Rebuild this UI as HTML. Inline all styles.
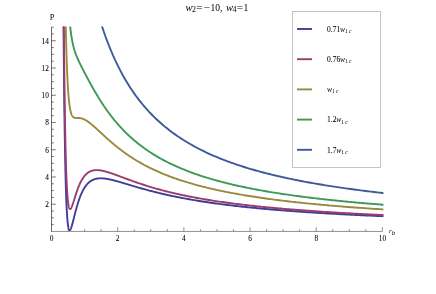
<!DOCTYPE html>
<html><head><meta charset="utf-8"><style>
html,body{margin:0;padding:0;background:#fff;}
svg{display:block;font-family:"Liberation Serif",serif;}
text{fill:#000;}
.b text,text.b{stroke:#000;stroke-width:0.06px;}
</style></head><body>
<div style="will-change:transform;opacity:0.999"><svg width="436" height="294" viewBox="0 0 436 294">
<rect width="436" height="294" fill="#fff"/>
<clipPath id="cp"><rect x="51.5" y="26.4" width="331.95" height="210"/></clipPath><g clip-path="url(#cp)"><path d="M63.37,3.31L63.49,19.23L63.61,34.11L63.73,48.02L63.85,61.02L63.97,73.17L64.09,84.53L64.21,95.14L64.32,105.07L64.44,114.34L64.56,123.01L64.68,131.10L64.80,138.67L64.92,145.73L65.04,152.33L65.16,158.48L65.28,164.23L65.40,169.59L65.52,174.59L65.64,179.24L65.76,183.58L65.88,187.62L66.00,191.37L66.12,194.87L66.23,198.11L66.35,201.12L66.47,203.91L66.59,206.50L66.71,208.89L66.83,211.10L66.95,213.13L67.07,215.01L67.19,216.74L67.31,218.32L67.43,219.77L67.55,221.10L67.67,222.30L67.79,223.40L67.91,224.39L68.03,225.28L68.14,226.08L68.26,226.79L68.38,227.42L68.50,227.98L68.62,228.46L68.74,228.87L68.86,229.23L68.98,229.52L69.10,229.75L69.22,229.94L69.34,230.07L69.46,230.16L69.58,230.20L69.70,230.21L69.82,230.17L69.93,230.11L70.05,230.00L70.17,229.87L70.29,229.71L70.41,229.52L70.53,229.30L70.65,229.06L70.77,228.80L70.89,228.52L71.01,228.22L71.13,227.91L71.25,227.57L71.37,227.22L71.49,226.86L71.61,226.49L71.73,226.10L71.84,225.70L71.96,225.30L72.08,224.88L72.20,224.46L72.32,224.02L72.44,223.58L72.56,223.14L72.68,222.69L72.80,222.24L72.92,221.78L73.04,221.31L73.16,220.85L73.28,220.38L73.40,219.91L73.52,219.44L73.64,218.97L73.75,218.49L73.87,218.02L73.99,217.54L74.11,217.07L74.23,216.59L74.35,216.12L74.47,215.65L74.59,215.18L74.71,214.71L74.83,214.24L74.95,213.77L75.07,213.31L75.19,212.84L75.31,212.38L75.43,211.92L75.54,211.47L75.66,211.02L75.78,210.57L75.90,210.12L76.02,209.68L76.14,209.24L76.26,208.80L76.38,208.37L76.50,207.94L76.62,207.51L76.74,207.09L76.86,206.67L76.98,206.25L77.10,205.84L77.22,205.43L77.34,205.03L77.45,204.63L77.57,204.23L77.69,203.84L77.81,203.45L77.93,203.07L78.05,202.69L78.17,202.31L78.29,201.94L78.41,201.57L78.53,201.20L78.65,200.84L78.77,200.49L78.89,200.14L79.01,199.79L79.13,199.44L79.25,199.10L79.36,198.76L79.48,198.43L79.60,198.10L79.72,197.78L79.84,197.46L79.96,197.14L80.08,196.83L80.20,196.52L80.32,196.21L80.44,195.91L80.56,195.61L80.68,195.32L80.80,195.03L80.92,194.74L81.04,194.46L81.16,194.18L81.27,193.90L81.39,193.63L81.51,193.36L81.63,193.10L81.75,192.84L81.87,192.58L81.99,192.32L82.11,192.07L82.23,191.82L82.35,191.58L82.47,191.34L82.59,191.10L82.71,190.87L82.83,190.63L82.95,190.41L83.06,190.18L83.18,189.96L83.30,189.74L83.42,189.53L83.54,189.31L83.66,189.10L83.78,188.90L83.90,188.69L84.02,188.49L84.14,188.30L84.26,188.10L84.38,187.91L84.50,187.72L84.62,187.53L84.74,187.35L84.86,187.17L84.97,186.99L85.09,186.81L85.21,186.64L85.33,186.47L85.45,186.30L85.57,186.14L85.69,185.98L85.81,185.82L85.93,185.66L86.05,185.50L86.17,185.35L86.29,185.20L86.41,185.05L86.53,184.90L86.65,184.76L86.77,184.62L86.88,184.48L87.00,184.34L87.12,184.21L87.24,184.08L87.36,183.95L87.48,183.82L87.60,183.69L87.72,183.57L87.84,183.45L87.96,183.33L88.08,183.21L88.20,183.09L88.32,182.98L88.44,182.87L88.56,182.76L88.67,182.65L88.79,182.54L88.91,182.44L89.03,182.33L89.15,182.23L89.27,182.13L89.39,182.04L89.51,181.94L89.63,181.85L89.75,181.75L89.87,181.66L89.99,181.57L90.11,181.49L90.23,181.40L90.35,181.32L90.47,181.23L90.58,181.15L90.70,181.07L90.82,180.99L90.94,180.92L91.06,180.84L91.18,180.77L91.30,180.70L91.42,180.62L91.54,180.56L91.66,180.49L91.78,180.42L91.90,180.36L92.02,180.29L92.14,180.23L92.26,180.17L92.38,180.11L92.49,180.05L92.61,179.99L92.73,179.93L92.85,179.88L92.97,179.83L93.09,179.77L93.21,179.72L93.33,179.67L93.45,179.62L93.57,179.57L93.69,179.53L93.81,179.48L93.93,179.44L94.05,179.39L94.17,179.35L94.28,179.31L94.40,179.27L94.52,179.23L94.64,179.19L94.76,179.15L94.88,179.12L95.00,179.08L95.12,179.05L95.24,179.01L95.36,178.98L95.48,178.95L95.60,178.92L95.72,178.89L95.84,178.86L95.96,178.83L96.08,178.80L96.19,178.78L96.31,178.75L96.43,178.73L96.55,178.70L96.67,178.68L96.79,178.66L96.91,178.64L97.03,178.62L97.15,178.60L97.27,178.58L97.39,178.56L97.51,178.54L97.63,178.52L97.75,178.51L97.87,178.49L97.99,178.48L98.10,178.46L98.22,178.45L98.34,178.44L98.46,178.43L98.58,178.41L98.70,178.40L98.82,178.39L98.94,178.39L99.06,178.38L99.18,178.37L99.30,178.36L99.42,178.35L99.54,178.35L99.66,178.34L99.78,178.34L99.89,178.33L100.01,178.33L100.13,178.33L100.25,178.32L100.37,178.32L100.49,178.32L100.61,178.32L100.73,178.32L100.85,178.32L100.97,178.32L101.09,178.32L101.21,178.32L101.33,178.33L101.45,178.33L101.57,178.33L101.69,178.33L101.80,178.34L101.92,178.34L102.04,178.35L102.16,178.35L102.28,178.36L102.40,178.37L102.52,178.37L102.64,178.38L102.76,178.39L102.88,178.40L103.00,178.40L103.12,178.41L103.24,178.42L103.36,178.43L103.48,178.44L103.60,178.45L103.71,178.46L103.83,178.48L103.95,178.49L104.07,178.50L104.19,178.51L104.31,178.53L104.43,178.54L104.55,178.55L104.67,178.57L104.79,178.58L104.91,178.59L105.03,178.61L105.15,178.62L105.27,178.64L105.39,178.66L105.51,178.67L105.62,178.69L105.74,178.71L105.86,178.72L105.98,178.74L106.10,178.76L106.22,178.78L106.34,178.79L106.46,178.81L106.58,178.83L106.70,178.85L106.82,178.87L106.94,178.89L107.06,178.91L107.18,178.93L107.30,178.95L107.41,178.97L107.53,178.99L107.65,179.01L107.77,179.04L107.89,179.06L108.01,179.08L108.13,179.10L108.25,179.12L108.37,179.15L108.49,179.17L108.61,179.19L108.73,179.22L108.85,179.24L108.97,179.26L109.09,179.29L109.21,179.31L109.32,179.34L109.44,179.36L109.56,179.39L109.68,179.41L109.80,179.44L109.92,179.46L110.04,179.49L110.16,179.51L110.28,179.54L110.40,179.57L110.52,179.59L110.64,179.62L110.76,179.64L110.88,179.67L111.00,179.70L111.12,179.73L111.23,179.75L111.35,179.78L111.47,179.81L111.59,179.84L111.71,179.86L111.83,179.89L111.95,179.92L112.07,179.95L112.19,179.98L112.31,180.01L112.43,180.04L112.55,180.07L112.67,180.09L112.79,180.12L112.91,180.15L113.02,180.18L113.14,180.21L113.26,180.24L113.38,180.27L113.50,180.30L113.62,180.33L113.74,180.36L113.86,180.39L113.98,180.42L114.10,180.45L114.22,180.49L114.34,180.52L114.46,180.55L114.58,180.58L114.70,180.61L114.82,180.64L114.93,180.67L115.05,180.70L115.17,180.74L115.29,180.77L115.41,180.80L115.53,180.83L115.65,180.86L115.77,180.90L115.89,180.93L116.01,180.96L116.13,180.99L116.25,181.02L116.37,181.06L116.49,181.09L116.61,181.12L116.73,181.16L116.84,181.19L116.96,181.22L117.08,181.25L117.20,181.29L117.32,181.32L117.44,181.35L117.56,181.39L117.68,181.42L119.34,181.89L121.01,182.38L122.67,182.86L124.34,183.36L126.00,183.86L127.67,184.36L129.33,184.86L131.00,185.35L132.66,185.85L134.33,186.34L135.99,186.83L137.66,187.31L139.32,187.79L140.99,188.27L142.65,188.74L144.32,189.20L145.98,189.65L147.65,190.10L149.31,190.55L150.98,190.98L152.64,191.41L154.31,191.84L155.97,192.25L157.63,192.66L159.30,193.07L160.96,193.46L162.63,193.85L164.29,194.24L165.96,194.62L167.62,194.99L169.29,195.35L170.95,195.71L172.62,196.06L174.28,196.41L175.95,196.75L177.61,197.09L179.28,197.42L180.94,197.74L182.61,198.06L184.27,198.37L185.94,198.68L187.60,198.98L189.27,199.28L190.93,199.57L192.59,199.86L194.26,200.15L195.92,200.42L197.59,200.70L199.25,200.97L200.92,201.23L202.58,201.50L204.25,201.75L205.91,202.01L207.58,202.25L209.24,202.50L210.91,202.74L212.57,202.98L214.24,203.21L215.90,203.44L217.57,203.67L219.23,203.89L220.90,204.11L222.56,204.33L224.23,204.54L225.89,204.75L227.56,204.96L229.22,205.16L230.88,205.36L232.55,205.56L234.21,205.76L235.88,205.95L237.54,206.14L239.21,206.33L240.87,206.51L242.54,206.69L244.20,206.87L245.87,207.05L247.53,207.22L249.20,207.39L250.86,207.56L252.53,207.73L254.19,207.90L255.86,208.06L257.52,208.22L259.19,208.38L260.85,208.53L262.52,208.69L264.18,208.84L265.85,208.99L267.51,209.14L269.17,209.29L270.84,209.43L272.50,209.57L274.17,209.71L275.83,209.85L277.50,209.99L279.16,210.13L280.83,210.26L282.49,210.39L284.16,210.53L285.82,210.65L287.49,210.78L289.15,210.91L290.82,211.03L292.48,211.16L294.15,211.28L295.81,211.40L297.48,211.52L299.14,211.64L300.81,211.75L302.47,211.87L304.13,211.98L305.80,212.09L307.46,212.20L309.13,212.31L310.79,212.42L312.46,212.53L314.12,212.64L315.79,212.74L317.45,212.84L319.12,212.95L320.78,213.05L322.45,213.15L324.11,213.25L325.78,213.35L327.44,213.44L329.11,213.54L330.77,213.64L332.44,213.73L334.10,213.82L335.77,213.92L337.43,214.01L339.10,214.10L340.76,214.19L342.42,214.28L344.09,214.36L345.75,214.45L347.42,214.54L349.08,214.62L350.75,214.71L352.41,214.79L354.08,214.87L355.74,214.96L357.41,215.04L359.07,215.12L360.74,215.20L362.40,215.27L364.07,215.35L365.73,215.43L367.40,215.51L369.06,215.58L370.73,215.66L372.39,215.73L374.06,215.81L375.72,215.88L377.39,215.95L379.05,216.02L380.71,216.09L382.38,216.16L384.04,216.23L385.71,216.30" stroke="#3F3D99" fill="none" stroke-width="1.9" stroke-linejoin="round"/><path d="M63.61,2.08L63.73,16.30L63.85,29.60L63.97,42.06L64.09,53.71L64.21,64.61L64.32,74.82L64.44,84.37L64.56,93.31L64.68,101.68L64.80,109.51L64.92,116.83L65.04,123.68L65.16,130.09L65.28,136.08L65.40,141.68L65.52,146.92L65.64,151.81L65.76,156.37L65.88,160.64L66.00,164.62L66.12,168.33L66.23,171.79L66.35,175.01L66.47,178.01L66.59,180.80L66.71,183.39L66.83,185.80L66.95,188.03L67.07,190.10L67.19,192.01L67.31,193.79L67.43,195.42L67.55,196.92L67.67,198.31L67.79,199.58L67.91,200.74L68.03,201.81L68.14,202.77L68.26,203.65L68.38,204.45L68.50,205.16L68.62,205.81L68.74,206.38L68.86,206.88L68.98,207.33L69.10,207.71L69.22,208.05L69.34,208.33L69.46,208.56L69.58,208.75L69.70,208.89L69.82,209.00L69.93,209.06L70.05,209.10L70.17,209.10L70.29,209.07L70.41,209.01L70.53,208.92L70.65,208.81L70.77,208.67L70.89,208.52L71.01,208.34L71.13,208.14L71.25,207.93L71.37,207.70L71.49,207.45L71.61,207.20L71.73,206.92L71.84,206.64L71.96,206.34L72.08,206.03L72.20,205.72L72.32,205.39L72.44,205.06L72.56,204.72L72.68,204.38L72.80,204.02L72.92,203.67L73.04,203.31L73.16,202.94L73.28,202.57L73.40,202.20L73.52,201.82L73.64,201.44L73.75,201.06L73.87,200.68L73.99,200.30L74.11,199.91L74.23,199.53L74.35,199.15L74.47,198.76L74.59,198.38L74.71,197.99L74.83,197.61L74.95,197.23L75.07,196.85L75.19,196.47L75.31,196.09L75.43,195.71L75.54,195.34L75.66,194.97L75.78,194.59L75.90,194.23L76.02,193.86L76.14,193.50L76.26,193.14L76.38,192.78L76.50,192.42L76.62,192.07L76.74,191.72L76.86,191.37L76.98,191.03L77.10,190.69L77.22,190.35L77.34,190.02L77.45,189.68L77.57,189.36L77.69,189.03L77.81,188.71L77.93,188.39L78.05,188.08L78.17,187.77L78.29,187.46L78.41,187.15L78.53,186.85L78.65,186.56L78.77,186.26L78.89,185.97L79.01,185.68L79.13,185.40L79.25,185.12L79.36,184.84L79.48,184.57L79.60,184.30L79.72,184.03L79.84,183.77L79.96,183.51L80.08,183.26L80.20,183.00L80.32,182.75L80.44,182.51L80.56,182.26L80.68,182.02L80.80,181.79L80.92,181.56L81.04,181.33L81.16,181.10L81.27,180.88L81.39,180.66L81.51,180.44L81.63,180.22L81.75,180.01L81.87,179.81L81.99,179.60L82.11,179.40L82.23,179.20L82.35,179.01L82.47,178.81L82.59,178.62L82.71,178.44L82.83,178.25L82.95,178.07L83.06,177.89L83.18,177.72L83.30,177.54L83.42,177.37L83.54,177.21L83.66,177.04L83.78,176.88L83.90,176.72L84.02,176.57L84.14,176.41L84.26,176.26L84.38,176.11L84.50,175.96L84.62,175.82L84.74,175.68L84.86,175.54L84.97,175.40L85.09,175.27L85.21,175.14L85.33,175.01L85.45,174.88L85.57,174.75L85.69,174.63L85.81,174.51L85.93,174.39L86.05,174.27L86.17,174.16L86.29,174.05L86.41,173.94L86.53,173.83L86.65,173.72L86.77,173.62L86.88,173.52L87.00,173.42L87.12,173.32L87.24,173.22L87.36,173.13L87.48,173.04L87.60,172.95L87.72,172.86L87.84,172.77L87.96,172.69L88.08,172.60L88.20,172.52L88.32,172.44L88.44,172.36L88.56,172.29L88.67,172.21L88.79,172.14L88.91,172.07L89.03,172.00L89.15,171.93L89.27,171.86L89.39,171.80L89.51,171.73L89.63,171.67L89.75,171.61L89.87,171.55L89.99,171.49L90.11,171.44L90.23,171.38L90.35,171.33L90.47,171.28L90.58,171.23L90.70,171.18L90.82,171.13L90.94,171.08L91.06,171.04L91.18,170.99L91.30,170.95L91.42,170.91L91.54,170.87L91.66,170.83L91.78,170.79L91.90,170.75L92.02,170.72L92.14,170.68L92.26,170.65L92.38,170.62L92.49,170.59L92.61,170.56L92.73,170.53L92.85,170.50L92.97,170.47L93.09,170.45L93.21,170.42L93.33,170.40L93.45,170.37L93.57,170.35L93.69,170.33L93.81,170.31L93.93,170.29L94.05,170.27L94.17,170.26L94.28,170.24L94.40,170.23L94.52,170.21L94.64,170.20L94.76,170.19L94.88,170.17L95.00,170.16L95.12,170.15L95.24,170.14L95.36,170.14L95.48,170.13L95.60,170.12L95.72,170.11L95.84,170.11L95.96,170.10L96.08,170.10L96.19,170.10L96.31,170.10L96.43,170.09L96.55,170.09L96.67,170.09L96.79,170.09L96.91,170.09L97.03,170.10L97.15,170.10L97.27,170.10L97.39,170.10L97.51,170.11L97.63,170.11L97.75,170.12L97.87,170.13L97.99,170.13L98.10,170.14L98.22,170.15L98.34,170.16L98.46,170.17L98.58,170.18L98.70,170.19L98.82,170.20L98.94,170.21L99.06,170.22L99.18,170.23L99.30,170.25L99.42,170.26L99.54,170.27L99.66,170.29L99.78,170.30L99.89,170.32L100.01,170.34L100.13,170.35L100.25,170.37L100.37,170.39L100.49,170.40L100.61,170.42L100.73,170.44L100.85,170.46L100.97,170.48L101.09,170.50L101.21,170.52L101.33,170.54L101.45,170.56L101.57,170.58L101.69,170.61L101.80,170.63L101.92,170.65L102.04,170.67L102.16,170.70L102.28,170.72L102.40,170.75L102.52,170.77L102.64,170.80L102.76,170.82L102.88,170.85L103.00,170.87L103.12,170.90L103.24,170.93L103.36,170.95L103.48,170.98L103.60,171.01L103.71,171.04L103.83,171.06L103.95,171.09L104.07,171.12L104.19,171.15L104.31,171.18L104.43,171.21L104.55,171.24L104.67,171.27L104.79,171.30L104.91,171.33L105.03,171.36L105.15,171.39L105.27,171.43L105.39,171.46L105.51,171.49L105.62,171.52L105.74,171.55L105.86,171.59L105.98,171.62L106.10,171.65L106.22,171.69L106.34,171.72L106.46,171.76L106.58,171.79L106.70,171.82L106.82,171.86L106.94,171.89L107.06,171.93L107.18,171.96L107.30,172.00L107.41,172.03L107.53,172.07L107.65,172.11L107.77,172.14L107.89,172.18L108.01,172.22L108.13,172.25L108.25,172.29L108.37,172.33L108.49,172.36L108.61,172.40L108.73,172.44L108.85,172.48L108.97,172.51L109.09,172.55L109.21,172.59L109.32,172.63L109.44,172.67L109.56,172.71L109.68,172.74L109.80,172.78L109.92,172.82L110.04,172.86L110.16,172.90L110.28,172.94L110.40,172.98L110.52,173.02L110.64,173.06L110.76,173.10L110.88,173.14L111.00,173.18L111.12,173.22L111.23,173.26L111.35,173.30L111.47,173.34L111.59,173.38L111.71,173.42L111.83,173.46L111.95,173.50L112.07,173.55L112.19,173.59L112.31,173.63L112.43,173.67L112.55,173.71L112.67,173.75L112.79,173.79L112.91,173.84L113.02,173.88L113.14,173.92L113.26,173.96L113.38,174.00L113.50,174.05L113.62,174.09L113.74,174.13L113.86,174.17L113.98,174.22L114.10,174.26L114.22,174.30L114.34,174.34L114.46,174.39L114.58,174.43L114.70,174.47L114.82,174.51L114.93,174.56L115.05,174.60L115.17,174.64L115.29,174.69L115.41,174.73L115.53,174.77L115.65,174.82L115.77,174.86L115.89,174.90L116.01,174.95L116.13,174.99L116.25,175.03L116.37,175.08L116.49,175.12L116.61,175.16L116.73,175.21L116.84,175.25L116.96,175.30L117.08,175.34L117.20,175.38L117.32,175.43L117.44,175.47L117.56,175.52L117.68,175.56L119.34,176.18L121.01,176.79L122.67,177.42L124.34,178.03L126.00,178.65L127.67,179.26L129.33,179.87L131.00,180.47L132.66,181.07L134.33,181.66L135.99,182.24L137.66,182.81L139.32,183.38L140.99,183.93L142.65,184.48L144.32,185.02L145.98,185.55L147.65,186.07L149.31,186.58L150.98,187.08L152.64,187.58L154.31,188.06L155.97,188.54L157.63,189.01L159.30,189.47L160.96,189.92L162.63,190.36L164.29,190.80L165.96,191.23L167.62,191.65L169.29,192.06L170.95,192.46L172.62,192.86L174.28,193.25L175.95,193.63L177.61,194.01L179.28,194.38L180.94,194.74L182.61,195.10L184.27,195.45L185.94,195.79L187.60,196.13L189.27,196.47L190.93,196.79L192.59,197.11L194.26,197.43L195.92,197.74L197.59,198.04L199.25,198.34L200.92,198.64L202.58,198.93L204.25,199.21L205.91,199.49L207.58,199.77L209.24,200.04L210.91,200.31L212.57,200.57L214.24,200.83L215.90,201.08L217.57,201.33L219.23,201.58L220.90,201.82L222.56,202.06L224.23,202.30L225.89,202.53L227.56,202.76L229.22,202.98L230.88,203.20L232.55,203.42L234.21,203.63L235.88,203.85L237.54,204.05L239.21,204.26L240.87,204.46L242.54,204.66L244.20,204.86L245.87,205.05L247.53,205.24L249.20,205.43L250.86,205.62L252.53,205.80L254.19,205.98L255.86,206.16L257.52,206.34L259.19,206.51L260.85,206.68L262.52,206.85L264.18,207.02L265.85,207.18L267.51,207.34L269.17,207.50L270.84,207.66L272.50,207.82L274.17,207.97L275.83,208.12L277.50,208.28L279.16,208.42L280.83,208.57L282.49,208.71L284.16,208.86L285.82,209.00L287.49,209.14L289.15,209.28L290.82,209.41L292.48,209.55L294.15,209.68L295.81,209.81L297.48,209.94L299.14,210.07L300.81,210.20L302.47,210.32L304.13,210.44L305.80,210.57L307.46,210.69L309.13,210.81L310.79,210.93L312.46,211.04L314.12,211.16L315.79,211.27L317.45,211.39L319.12,211.50L320.78,211.61L322.45,211.72L324.11,211.83L325.78,211.93L327.44,212.04L329.11,212.14L330.77,212.25L332.44,212.35L334.10,212.45L335.77,212.55L337.43,212.65L339.10,212.75L340.76,212.85L342.42,212.94L344.09,213.04L345.75,213.13L347.42,213.23L349.08,213.32L350.75,213.41L352.41,213.50L354.08,213.59L355.74,213.68L357.41,213.77L359.07,213.86L360.74,213.94L362.40,214.03L364.07,214.11L365.73,214.20L367.40,214.28L369.06,214.36L370.73,214.44L372.39,214.52L374.06,214.60L375.72,214.68L377.39,214.76L379.05,214.84L380.71,214.92L382.38,214.99L384.04,215.07L385.71,215.14" stroke="#993D71" fill="none" stroke-width="1.9" stroke-linejoin="round"/><path d="M65.28,0.96L65.40,7.73L65.52,14.10L65.64,20.11L65.76,25.78L65.88,31.13L66.00,36.18L66.12,40.93L66.23,45.43L66.35,49.66L66.47,53.66L66.59,57.43L66.71,60.99L66.83,64.36L66.95,67.53L67.07,70.52L67.19,73.35L67.31,76.01L67.43,78.53L67.55,80.90L67.67,83.14L67.79,85.26L67.91,87.25L68.03,89.14L68.14,90.91L68.26,92.59L68.38,94.17L68.50,95.66L68.62,97.06L68.74,98.39L68.86,99.64L68.98,100.81L69.10,101.92L69.22,102.97L69.34,103.95L69.46,104.88L69.58,105.75L69.70,106.57L69.82,107.34L69.93,108.07L70.05,108.75L70.17,109.39L70.29,109.99L70.41,110.56L70.53,111.09L70.65,111.59L70.77,112.06L70.89,112.50L71.01,112.91L71.13,113.29L71.25,113.65L71.37,113.99L71.49,114.30L71.61,114.59L71.73,114.87L71.84,115.12L71.96,115.36L72.08,115.58L72.20,115.79L72.32,115.98L72.44,116.15L72.56,116.32L72.68,116.47L72.80,116.61L72.92,116.74L73.04,116.86L73.16,116.97L73.28,117.07L73.40,117.17L73.52,117.25L73.64,117.33L73.75,117.40L73.87,117.47L73.99,117.52L74.11,117.58L74.23,117.63L74.35,117.67L74.47,117.71L74.59,117.74L74.71,117.77L74.83,117.80L74.95,117.82L75.07,117.85L75.19,117.86L75.31,117.88L75.43,117.89L75.54,117.91L75.66,117.91L75.78,117.92L75.90,117.93L76.02,117.94L76.14,117.94L76.26,117.94L76.38,117.95L76.50,117.95L76.62,117.95L76.74,117.95L76.86,117.95L76.98,117.95L77.10,117.95L77.22,117.95L77.34,117.95L77.45,117.95L77.57,117.95L77.69,117.95L77.81,117.95L77.93,117.95L78.05,117.96L78.17,117.96L78.29,117.96L78.41,117.97L78.53,117.97L78.65,117.98L78.77,117.98L78.89,117.99L79.01,118.00L79.13,118.01L79.25,118.01L79.36,118.03L79.48,118.04L79.60,118.05L79.72,118.06L79.84,118.08L79.96,118.09L80.08,118.11L80.20,118.13L80.32,118.15L80.44,118.17L80.56,118.19L80.68,118.21L80.80,118.24L80.92,118.26L81.04,118.29L81.16,118.31L81.27,118.34L81.39,118.37L81.51,118.40L81.63,118.43L81.75,118.47L81.87,118.50L81.99,118.54L82.11,118.57L82.23,118.61L82.35,118.65L82.47,118.69L82.59,118.73L82.71,118.77L82.83,118.82L82.95,118.86L83.06,118.91L83.18,118.95L83.30,119.00L83.42,119.05L83.54,119.10L83.66,119.15L83.78,119.20L83.90,119.26L84.02,119.31L84.14,119.37L84.26,119.42L84.38,119.48L84.50,119.54L84.62,119.60L84.74,119.66L84.86,119.72L84.97,119.78L85.09,119.85L85.21,119.91L85.33,119.97L85.45,120.04L85.57,120.11L85.69,120.18L85.81,120.24L85.93,120.31L86.05,120.38L86.17,120.46L86.29,120.53L86.41,120.60L86.53,120.67L86.65,120.75L86.77,120.82L86.88,120.90L87.00,120.98L87.12,121.05L87.24,121.13L87.36,121.21L87.48,121.29L87.60,121.37L87.72,121.45L87.84,121.54L87.96,121.62L88.08,121.70L88.20,121.79L88.32,121.87L88.44,121.96L88.56,122.04L88.67,122.13L88.79,122.22L88.91,122.30L89.03,122.39L89.15,122.48L89.27,122.57L89.39,122.66L89.51,122.75L89.63,122.84L89.75,122.93L89.87,123.03L89.99,123.12L90.11,123.21L90.23,123.31L90.35,123.40L90.47,123.49L90.58,123.59L90.70,123.69L90.82,123.78L90.94,123.88L91.06,123.98L91.18,124.07L91.30,124.17L91.42,124.27L91.54,124.37L91.66,124.47L91.78,124.57L91.90,124.66L92.02,124.76L92.14,124.87L92.26,124.97L92.38,125.07L92.49,125.17L92.61,125.27L92.73,125.37L92.85,125.47L92.97,125.58L93.09,125.68L93.21,125.78L93.33,125.89L93.45,125.99L93.57,126.09L93.69,126.20L93.81,126.30L93.93,126.41L94.05,126.51L94.17,126.62L94.28,126.72L94.40,126.83L94.52,126.94L94.64,127.04L94.76,127.15L94.88,127.26L95.00,127.36L95.12,127.47L95.24,127.58L95.36,127.68L95.48,127.79L95.60,127.90L95.72,128.01L95.84,128.12L95.96,128.22L96.08,128.33L96.19,128.44L96.31,128.55L96.43,128.66L96.55,128.77L96.67,128.88L96.79,128.98L96.91,129.09L97.03,129.20L97.15,129.31L97.27,129.42L97.39,129.53L97.51,129.64L97.63,129.75L97.75,129.86L97.87,129.97L97.99,130.08L98.10,130.19L98.22,130.30L98.34,130.41L98.46,130.52L98.58,130.63L98.70,130.74L98.82,130.85L98.94,130.96L99.06,131.07L99.18,131.18L99.30,131.29L99.42,131.40L99.54,131.51L99.66,131.63L99.78,131.74L99.89,131.85L100.01,131.96L100.13,132.07L100.25,132.18L100.37,132.29L100.49,132.40L100.61,132.51L100.73,132.62L100.85,132.73L100.97,132.84L101.09,132.95L101.21,133.06L101.33,133.17L101.45,133.28L101.57,133.40L101.69,133.51L101.80,133.62L101.92,133.73L102.04,133.84L102.16,133.95L102.28,134.06L102.40,134.17L102.52,134.28L102.64,134.39L102.76,134.50L102.88,134.61L103.00,134.72L103.12,134.83L103.24,134.94L103.36,135.05L103.48,135.16L103.60,135.27L103.71,135.38L103.83,135.49L103.95,135.60L104.07,135.71L104.19,135.82L104.31,135.93L104.43,136.03L104.55,136.14L104.67,136.25L104.79,136.36L104.91,136.47L105.03,136.58L105.15,136.69L105.27,136.80L105.39,136.91L105.51,137.01L105.62,137.12L105.74,137.23L105.86,137.34L105.98,137.45L106.10,137.56L106.22,137.66L106.34,137.77L106.46,137.88L106.58,137.99L106.70,138.09L106.82,138.20L106.94,138.31L107.06,138.42L107.18,138.52L107.30,138.63L107.41,138.74L107.53,138.84L107.65,138.95L107.77,139.06L107.89,139.16L108.01,139.27L108.13,139.37L108.25,139.48L108.37,139.59L108.49,139.69L108.61,139.80L108.73,139.90L108.85,140.01L108.97,140.11L109.09,140.22L109.21,140.32L109.32,140.43L109.44,140.53L109.56,140.64L109.68,140.74L109.80,140.85L109.92,140.95L110.04,141.06L110.16,141.16L110.28,141.26L110.40,141.37L110.52,141.47L110.64,141.58L110.76,141.68L110.88,141.78L111.00,141.89L111.12,141.99L111.23,142.09L111.35,142.19L111.47,142.30L111.59,142.40L111.71,142.50L111.83,142.60L111.95,142.70L112.07,142.81L112.19,142.91L112.31,143.01L112.43,143.11L112.55,143.21L112.67,143.31L112.79,143.41L112.91,143.52L113.02,143.62L113.14,143.72L113.26,143.82L113.38,143.92L113.50,144.02L113.62,144.12L113.74,144.22L113.86,144.32L113.98,144.42L114.10,144.52L114.22,144.61L114.34,144.71L114.46,144.81L114.58,144.91L114.70,145.01L114.82,145.11L114.93,145.21L115.05,145.30L115.17,145.40L115.29,145.50L115.41,145.60L115.53,145.70L115.65,145.79L115.77,145.89L115.89,145.99L116.01,146.08L116.13,146.18L116.25,146.28L116.37,146.37L116.49,146.47L116.61,146.57L116.73,146.66L116.84,146.76L116.96,146.85L117.08,146.95L117.20,147.05L117.32,147.14L117.44,147.24L117.56,147.33L117.68,147.43L119.34,148.73L121.01,150.01L122.67,151.26L124.34,152.47L126.00,153.66L127.67,154.82L129.33,155.95L131.00,157.05L132.66,158.13L134.33,159.18L135.99,160.20L137.66,161.20L139.32,162.18L140.99,163.13L142.65,164.05L144.32,164.96L145.98,165.84L147.65,166.70L149.31,167.55L150.98,168.37L152.64,169.17L154.31,169.95L155.97,170.72L157.63,171.47L159.30,172.20L160.96,172.91L162.63,173.61L164.29,174.29L165.96,174.96L167.62,175.61L169.29,176.25L170.95,176.88L172.62,177.49L174.28,178.09L175.95,178.67L177.61,179.25L179.28,179.81L180.94,180.36L182.61,180.90L184.27,181.43L185.94,181.95L187.60,182.45L189.27,182.95L190.93,183.44L192.59,183.92L194.26,184.39L195.92,184.85L197.59,185.30L199.25,185.74L200.92,186.18L202.58,186.60L204.25,187.02L205.91,187.44L207.58,187.84L209.24,188.24L210.91,188.63L212.57,189.01L214.24,189.39L215.90,189.76L217.57,190.12L219.23,190.48L220.90,190.83L222.56,191.18L224.23,191.52L225.89,191.85L227.56,192.18L229.22,192.50L230.88,192.82L232.55,193.14L234.21,193.44L235.88,193.75L237.54,194.05L239.21,194.34L240.87,194.63L242.54,194.92L244.20,195.20L245.87,195.47L247.53,195.75L249.20,196.01L250.86,196.28L252.53,196.54L254.19,196.80L255.86,197.05L257.52,197.30L259.19,197.55L260.85,197.79L262.52,198.03L264.18,198.26L265.85,198.50L267.51,198.72L269.17,198.95L270.84,199.17L272.50,199.39L274.17,199.61L275.83,199.83L277.50,200.04L279.16,200.25L280.83,200.45L282.49,200.65L284.16,200.86L285.82,201.05L287.49,201.25L289.15,201.44L290.82,201.63L292.48,201.82L294.15,202.01L295.81,202.19L297.48,202.37L299.14,202.55L300.81,202.73L302.47,202.90L304.13,203.08L305.80,203.25L307.46,203.41L309.13,203.58L310.79,203.75L312.46,203.91L314.12,204.07L315.79,204.23L317.45,204.39L319.12,204.54L320.78,204.69L322.45,204.85L324.11,205.00L325.78,205.15L327.44,205.29L329.11,205.44L330.77,205.58L332.44,205.72L334.10,205.86L335.77,206.00L337.43,206.14L339.10,206.28L340.76,206.41L342.42,206.54L344.09,206.68L345.75,206.81L347.42,206.93L349.08,207.06L350.75,207.19L352.41,207.31L354.08,207.44L355.74,207.56L357.41,207.68L359.07,207.80L360.74,207.92L362.40,208.04L364.07,208.16L365.73,208.27L367.40,208.38L369.06,208.50L370.73,208.61L372.39,208.72L374.06,208.83L375.72,208.94L377.39,209.05L379.05,209.15L380.71,209.26L382.38,209.36L384.04,209.47L385.71,209.57" stroke="#998B3D" fill="none" stroke-width="1.9" stroke-linejoin="round"/><path d="M68.26,0.03L68.38,2.27L68.50,4.40L68.62,6.44L68.74,8.40L68.86,10.26L68.98,12.05L69.10,13.76L69.22,15.40L69.34,16.97L69.46,18.48L69.58,19.92L69.70,21.30L69.82,22.63L69.93,23.90L70.05,25.13L70.17,26.30L70.29,27.43L70.41,28.52L70.53,29.57L70.65,30.57L70.77,31.54L70.89,32.48L71.01,33.38L71.13,34.24L71.25,35.08L71.37,35.89L71.49,36.67L71.61,37.42L71.73,38.15L71.84,38.86L71.96,39.54L72.08,40.20L72.20,40.84L72.32,41.46L72.44,42.06L72.56,42.65L72.68,43.22L72.80,43.77L72.92,44.30L73.04,44.82L73.16,45.33L73.28,45.83L73.40,46.31L73.52,46.78L73.64,47.23L73.75,47.68L73.87,48.12L73.99,48.55L74.11,48.96L74.23,49.37L74.35,49.77L74.47,50.16L74.59,50.55L74.71,50.92L74.83,51.29L74.95,51.65L75.07,52.01L75.19,52.36L75.31,52.71L75.43,53.04L75.54,53.38L75.66,53.71L75.78,54.03L75.90,54.35L76.02,54.66L76.14,54.97L76.26,55.28L76.38,55.58L76.50,55.88L76.62,56.18L76.74,56.47L76.86,56.76L76.98,57.05L77.10,57.33L77.22,57.62L77.34,57.89L77.45,58.17L77.57,58.44L77.69,58.72L77.81,58.99L77.93,59.25L78.05,59.52L78.17,59.78L78.29,60.05L78.41,60.31L78.53,60.57L78.65,60.82L78.77,61.08L78.89,61.34L79.01,61.59L79.13,61.84L79.25,62.09L79.36,62.34L79.48,62.59L79.60,62.84L79.72,63.09L79.84,63.33L79.96,63.58L80.08,63.82L80.20,64.07L80.32,64.31L80.44,64.55L80.56,64.80L80.68,65.04L80.80,65.28L80.92,65.52L81.04,65.76L81.16,65.99L81.27,66.23L81.39,66.47L81.51,66.71L81.63,66.94L81.75,67.18L81.87,67.42L81.99,67.65L82.11,67.89L82.23,68.12L82.35,68.35L82.47,68.59L82.59,68.82L82.71,69.06L82.83,69.29L82.95,69.52L83.06,69.75L83.18,69.98L83.30,70.22L83.42,70.45L83.54,70.68L83.66,70.91L83.78,71.14L83.90,71.37L84.02,71.60L84.14,71.83L84.26,72.06L84.38,72.29L84.50,72.52L84.62,72.75L84.74,72.98L84.86,73.20L84.97,73.43L85.09,73.66L85.21,73.89L85.33,74.11L85.45,74.34L85.57,74.57L85.69,74.80L85.81,75.02L85.93,75.25L86.05,75.47L86.17,75.70L86.29,75.93L86.41,76.15L86.53,76.38L86.65,76.60L86.77,76.83L86.88,77.05L87.00,77.28L87.12,77.50L87.24,77.72L87.36,77.95L87.48,78.17L87.60,78.39L87.72,78.62L87.84,78.84L87.96,79.06L88.08,79.28L88.20,79.51L88.32,79.73L88.44,79.95L88.56,80.17L88.67,80.39L88.79,80.61L88.91,80.83L89.03,81.05L89.15,81.27L89.27,81.49L89.39,81.71L89.51,81.93L89.63,82.15L89.75,82.37L89.87,82.59L89.99,82.81L90.11,83.02L90.23,83.24L90.35,83.46L90.47,83.68L90.58,83.89L90.70,84.11L90.82,84.33L90.94,84.54L91.06,84.76L91.18,84.97L91.30,85.19L91.42,85.40L91.54,85.62L91.66,85.83L91.78,86.04L91.90,86.26L92.02,86.47L92.14,86.68L92.26,86.90L92.38,87.11L92.49,87.32L92.61,87.53L92.73,87.74L92.85,87.95L92.97,88.17L93.09,88.38L93.21,88.59L93.33,88.80L93.45,89.00L93.57,89.21L93.69,89.42L93.81,89.63L93.93,89.84L94.05,90.05L94.17,90.25L94.28,90.46L94.40,90.67L94.52,90.87L94.64,91.08L94.76,91.29L94.88,91.49L95.00,91.70L95.12,91.90L95.24,92.10L95.36,92.31L95.48,92.51L95.60,92.71L95.72,92.92L95.84,93.12L95.96,93.32L96.08,93.52L96.19,93.73L96.31,93.93L96.43,94.13L96.55,94.33L96.67,94.53L96.79,94.73L96.91,94.93L97.03,95.13L97.15,95.32L97.27,95.52L97.39,95.72L97.51,95.92L97.63,96.11L97.75,96.31L97.87,96.51L97.99,96.70L98.10,96.90L98.22,97.09L98.34,97.29L98.46,97.48L98.58,97.68L98.70,97.87L98.82,98.06L98.94,98.26L99.06,98.45L99.18,98.64L99.30,98.83L99.42,99.02L99.54,99.22L99.66,99.41L99.78,99.60L99.89,99.79L100.01,99.98L100.13,100.17L100.25,100.35L100.37,100.54L100.49,100.73L100.61,100.92L100.73,101.11L100.85,101.29L100.97,101.48L101.09,101.66L101.21,101.85L101.33,102.04L101.45,102.22L101.57,102.41L101.69,102.59L101.80,102.77L101.92,102.96L102.04,103.14L102.16,103.32L102.28,103.50L102.40,103.69L102.52,103.87L102.64,104.05L102.76,104.23L102.88,104.41L103.00,104.59L103.12,104.77L103.24,104.95L103.36,105.13L103.48,105.31L103.60,105.49L103.71,105.66L103.83,105.84L103.95,106.02L104.07,106.19L104.19,106.37L104.31,106.55L104.43,106.72L104.55,106.90L104.67,107.07L104.79,107.25L104.91,107.42L105.03,107.59L105.15,107.77L105.27,107.94L105.39,108.11L105.51,108.28L105.62,108.46L105.74,108.63L105.86,108.80L105.98,108.97L106.10,109.14L106.22,109.31L106.34,109.48L106.46,109.65L106.58,109.82L106.70,109.98L106.82,110.15L106.94,110.32L107.06,110.49L107.18,110.65L107.30,110.82L107.41,110.99L107.53,111.15L107.65,111.32L107.77,111.48L107.89,111.65L108.01,111.81L108.13,111.98L108.25,112.14L108.37,112.30L108.49,112.47L108.61,112.63L108.73,112.79L108.85,112.95L108.97,113.12L109.09,113.28L109.21,113.44L109.32,113.60L109.44,113.76L109.56,113.92L109.68,114.08L109.80,114.24L109.92,114.39L110.04,114.55L110.16,114.71L110.28,114.87L110.40,115.03L110.52,115.18L110.64,115.34L110.76,115.50L110.88,115.65L111.00,115.81L111.12,115.96L111.23,116.12L111.35,116.27L111.47,116.43L111.59,116.58L111.71,116.73L111.83,116.89L111.95,117.04L112.07,117.19L112.19,117.34L112.31,117.49L112.43,117.65L112.55,117.80L112.67,117.95L112.79,118.10L112.91,118.25L113.02,118.40L113.14,118.55L113.26,118.70L113.38,118.84L113.50,118.99L113.62,119.14L113.74,119.29L113.86,119.44L113.98,119.58L114.10,119.73L114.22,119.88L114.34,120.02L114.46,120.17L114.58,120.31L114.70,120.46L114.82,120.60L114.93,120.75L115.05,120.89L115.17,121.04L115.29,121.18L115.41,121.32L115.53,121.46L115.65,121.61L115.77,121.75L115.89,121.89L116.01,122.03L116.13,122.17L116.25,122.32L116.37,122.46L116.49,122.60L116.61,122.74L116.73,122.88L116.84,123.01L116.96,123.15L117.08,123.29L117.20,123.43L117.32,123.57L117.44,123.71L117.56,123.84L117.68,123.98L119.34,125.86L121.01,127.69L122.67,129.46L124.34,131.17L126.00,132.84L127.67,134.45L129.33,136.02L131.00,137.54L132.66,139.01L134.33,140.45L135.99,141.84L137.66,143.19L139.32,144.51L140.99,145.79L142.65,147.03L144.32,148.24L145.98,149.42L147.65,150.57L149.31,151.68L150.98,152.77L152.64,153.83L154.31,154.86L155.97,155.87L157.63,156.85L159.30,157.80L160.96,158.74L162.63,159.65L164.29,160.54L165.96,161.40L167.62,162.25L169.29,163.08L170.95,163.89L172.62,164.68L174.28,165.45L175.95,166.21L177.61,166.94L179.28,167.67L180.94,168.37L182.61,169.06L184.27,169.74L185.94,170.40L187.60,171.05L189.27,171.69L190.93,172.31L192.59,172.92L194.26,173.52L195.92,174.10L197.59,174.68L199.25,175.24L200.92,175.79L202.58,176.33L204.25,176.87L205.91,177.39L207.58,177.90L209.24,178.40L210.91,178.89L212.57,179.38L214.24,179.85L215.90,180.32L217.57,180.78L219.23,181.23L220.90,181.67L222.56,182.11L224.23,182.53L225.89,182.95L227.56,183.37L229.22,183.77L230.88,184.17L232.55,184.57L234.21,184.95L235.88,185.33L237.54,185.71L239.21,186.07L240.87,186.44L242.54,186.79L244.20,187.14L245.87,187.49L247.53,187.83L249.20,188.17L250.86,188.50L252.53,188.82L254.19,189.14L255.86,189.46L257.52,189.77L259.19,190.07L260.85,190.38L262.52,190.67L264.18,190.97L265.85,191.26L267.51,191.54L269.17,191.82L270.84,192.10L272.50,192.37L274.17,192.64L275.83,192.91L277.50,193.17L279.16,193.43L280.83,193.69L282.49,193.94L284.16,194.19L285.82,194.43L287.49,194.67L289.15,194.91L290.82,195.15L292.48,195.38L294.15,195.61L295.81,195.84L297.48,196.06L299.14,196.29L300.81,196.50L302.47,196.72L304.13,196.93L305.80,197.14L307.46,197.35L309.13,197.56L310.79,197.76L312.46,197.96L314.12,198.16L315.79,198.36L317.45,198.55L319.12,198.74L320.78,198.93L322.45,199.12L324.11,199.31L325.78,199.49L327.44,199.67L329.11,199.85L330.77,200.03L332.44,200.20L334.10,200.37L335.77,200.54L337.43,200.71L339.10,200.88L340.76,201.05L342.42,201.21L344.09,201.37L345.75,201.53L347.42,201.69L349.08,201.85L350.75,202.00L352.41,202.16L354.08,202.31L355.74,202.46L357.41,202.61L359.07,202.76L360.74,202.90L362.40,203.05L364.07,203.19L365.73,203.33L367.40,203.47L369.06,203.61L370.73,203.75L372.39,203.89L374.06,204.02L375.72,204.15L377.39,204.29L379.05,204.42L380.71,204.55L382.38,204.68L384.04,204.80L385.71,204.93" stroke="#3D9956" fill="none" stroke-width="1.9" stroke-linejoin="round"/><path d="M94.40,0.26L94.52,0.72L94.64,1.17L94.76,1.63L94.88,2.08L95.00,2.53L95.12,2.98L95.24,3.42L95.36,3.87L95.48,4.31L95.60,4.75L95.72,5.19L95.84,5.63L95.96,6.07L96.08,6.51L96.19,6.94L96.31,7.37L96.43,7.80L96.55,8.23L96.67,8.66L96.79,9.08L96.91,9.51L97.03,9.93L97.15,10.35L97.27,10.77L97.39,11.19L97.51,11.61L97.63,12.02L97.75,12.44L97.87,12.85L97.99,13.26L98.10,13.67L98.22,14.08L98.34,14.48L98.46,14.89L98.58,15.29L98.70,15.69L98.82,16.09L98.94,16.49L99.06,16.89L99.18,17.29L99.30,17.68L99.42,18.08L99.54,18.47L99.66,18.86L99.78,19.25L99.89,19.64L100.01,20.02L100.13,20.41L100.25,20.79L100.37,21.17L100.49,21.56L100.61,21.94L100.73,22.31L100.85,22.69L100.97,23.07L101.09,23.44L101.21,23.82L101.33,24.19L101.45,24.56L101.57,24.93L101.69,25.30L101.80,25.67L101.92,26.03L102.04,26.40L102.16,26.76L102.28,27.12L102.40,27.48L102.52,27.84L102.64,28.20L102.76,28.56L102.88,28.91L103.00,29.27L103.12,29.62L103.24,29.98L103.36,30.33L103.48,30.68L103.60,31.03L103.71,31.38L103.83,31.72L103.95,32.07L104.07,32.41L104.19,32.76L104.31,33.10L104.43,33.44L104.55,33.78L104.67,34.12L104.79,34.46L104.91,34.79L105.03,35.13L105.15,35.46L105.27,35.80L105.39,36.13L105.51,36.46L105.62,36.79L105.74,37.12L105.86,37.45L105.98,37.77L106.10,38.10L106.22,38.42L106.34,38.75L106.46,39.07L106.58,39.39L106.70,39.71L106.82,40.03L106.94,40.35L107.06,40.67L107.18,40.99L107.30,41.30L107.41,41.62L107.53,41.93L107.65,42.24L107.77,42.55L107.89,42.86L108.01,43.17L108.13,43.48L108.25,43.79L108.37,44.10L108.49,44.40L108.61,44.71L108.73,45.01L108.85,45.31L108.97,45.62L109.09,45.92L109.21,46.22L109.32,46.52L109.44,46.82L109.56,47.11L109.68,47.41L109.80,47.70L109.92,48.00L110.04,48.29L110.16,48.59L110.28,48.88L110.40,49.17L110.52,49.46L110.64,49.75L110.76,50.04L110.88,50.32L111.00,50.61L111.12,50.90L111.23,51.18L111.35,51.46L111.47,51.75L111.59,52.03L111.71,52.31L111.83,52.59L111.95,52.87L112.07,53.15L112.19,53.43L112.31,53.71L112.43,53.98L112.55,54.26L112.67,54.53L112.79,54.81L112.91,55.08L113.02,55.35L113.14,55.62L113.26,55.89L113.38,56.16L113.50,56.43L113.62,56.70L113.74,56.97L113.86,57.23L113.98,57.50L114.10,57.77L114.22,58.03L114.34,58.29L114.46,58.56L114.58,58.82L114.70,59.08L114.82,59.34L114.93,59.60L115.05,59.86L115.17,60.12L115.29,60.37L115.41,60.63L115.53,60.89L115.65,61.14L115.77,61.40L115.89,61.65L116.01,61.90L116.13,62.16L116.25,62.41L116.37,62.66L116.49,62.91L116.61,63.16L116.73,63.41L116.84,63.65L116.96,63.90L117.08,64.15L117.20,64.39L117.32,64.64L117.44,64.88L117.56,65.13L117.68,65.37L119.34,68.69L121.01,71.88L122.67,74.96L124.34,77.92L126.00,80.77L127.67,83.52L129.33,86.18L131.00,88.74L132.66,91.22L134.33,93.62L135.99,95.93L137.66,98.17L139.32,100.34L140.99,102.44L142.65,104.48L144.32,106.45L145.98,108.37L147.65,110.22L149.31,112.03L150.98,113.78L152.64,115.48L154.31,117.13L155.97,118.74L157.63,120.30L159.30,121.82L160.96,123.30L162.63,124.74L164.29,126.15L165.96,127.52L167.62,128.85L169.29,130.15L170.95,131.42L172.62,132.65L174.28,133.86L175.95,135.04L177.61,136.19L179.28,137.31L180.94,138.41L182.61,139.48L184.27,140.53L185.94,141.55L187.60,142.55L189.27,143.53L190.93,144.49L192.59,145.43L194.26,146.35L195.92,147.25L197.59,148.13L199.25,148.99L200.92,149.83L202.58,150.66L204.25,151.47L205.91,152.27L207.58,153.05L209.24,153.81L210.91,154.56L212.57,155.30L214.24,156.02L215.90,156.73L217.57,157.42L219.23,158.10L220.90,158.77L222.56,159.43L224.23,160.08L225.89,160.71L227.56,161.33L229.22,161.95L230.88,162.55L232.55,163.14L234.21,163.72L235.88,164.29L237.54,164.86L239.21,165.41L240.87,165.95L242.54,166.49L244.20,167.02L245.87,167.53L247.53,168.04L249.20,168.55L250.86,169.04L252.53,169.53L254.19,170.00L255.86,170.48L257.52,170.94L259.19,171.40L260.85,171.85L262.52,172.29L264.18,172.73L265.85,173.16L267.51,173.58L269.17,174.00L270.84,174.42L272.50,174.82L274.17,175.22L275.83,175.62L277.50,176.01L279.16,176.39L280.83,176.77L282.49,177.15L284.16,177.51L285.82,177.88L287.49,178.24L289.15,178.59L290.82,178.94L292.48,179.29L294.15,179.63L295.81,179.96L297.48,180.29L299.14,180.62L300.81,180.95L302.47,181.26L304.13,181.58L305.80,181.89L307.46,182.20L309.13,182.50L310.79,182.80L312.46,183.10L314.12,183.39L315.79,183.68L317.45,183.97L319.12,184.25L320.78,184.53L322.45,184.80L324.11,185.08L325.78,185.35L327.44,185.61L329.11,185.88L330.77,186.14L332.44,186.39L334.10,186.65L335.77,186.90L337.43,187.15L339.10,187.39L340.76,187.64L342.42,187.88L344.09,188.12L345.75,188.35L347.42,188.58L349.08,188.81L350.75,189.04L352.41,189.27L354.08,189.49L355.74,189.71L357.41,189.93L359.07,190.15L360.74,190.36L362.40,190.57L364.07,190.78L365.73,190.99L367.40,191.19L369.06,191.40L370.73,191.60L372.39,191.80L374.06,192.00L375.72,192.19L377.39,192.38L379.05,192.58L380.71,192.76L382.38,192.95L384.04,193.14L385.71,193.32" stroke="#3D5A99" fill="none" stroke-width="1.9" stroke-linejoin="round"/></g>
<path d="M51.5,27.15V231.75" stroke="#444" stroke-width="0.8" fill="none"/><path d="M51.1,231.45H382.40" stroke="#6e6e6e" stroke-width="0.75" fill="none"/>
<path d="M51.5,224.64h2.3M51.5,217.83h2.3M51.5,211.02h2.3M51.5,204.21h4.3M51.5,197.40h2.3M51.5,190.59h2.3M51.5,183.78h2.3M51.5,176.97h4.3M51.5,170.16h2.3M51.5,163.35h2.3M51.5,156.54h2.3M51.5,149.73h4.3M51.5,142.92h2.3M51.5,136.11h2.3M51.5,129.30h2.3M51.5,122.49h4.3M51.5,115.68h2.3M51.5,108.87h2.3M51.5,102.06h2.3M51.5,95.25h4.3M51.5,88.44h2.3M51.5,81.63h2.3M51.5,74.82h2.3M51.5,68.01h4.3M51.5,61.20h2.3M51.5,54.39h2.3M51.5,47.58h2.3M51.5,40.77h4.3M51.5,33.96h2.3M51.5,27.15h2.3" stroke="#3a3a3a" stroke-width="0.7" fill="none"/><path d="M68.05,231.45v-2.3M84.59,231.45v-2.3M101.14,231.45v-2.3M117.68,231.45v-4.3M134.23,231.45v-2.3M150.77,231.45v-2.3M167.31,231.45v-2.3M183.86,231.45v-4.3M200.41,231.45v-2.3M216.95,231.45v-2.3M233.50,231.45v-2.3M250.04,231.45v-4.3M266.59,231.45v-2.3M283.13,231.45v-2.3M299.68,231.45v-2.3M316.22,231.45v-4.3M332.77,231.45v-2.3M349.31,231.45v-2.3M365.86,231.45v-2.3M382.40,231.45v-4.3" stroke="#666" stroke-width="0.7" fill="none"/>
<g class="b" font-size="7.3"><text x="48.9" y="207.06" text-anchor="end">2</text><text x="48.9" y="179.82" text-anchor="end">4</text><text x="48.9" y="152.58" text-anchor="end">6</text><text x="48.9" y="125.34" text-anchor="end">8</text><text x="48.9" y="98.10" text-anchor="end">10</text><text x="48.9" y="70.86" text-anchor="end">12</text><text x="48.9" y="43.62" text-anchor="end">14</text><text x="51.50" y="241.05" text-anchor="middle">0</text><text x="117.68" y="241.05" text-anchor="middle">2</text><text x="183.86" y="241.05" text-anchor="middle">4</text><text x="250.04" y="241.05" text-anchor="middle">6</text><text x="316.22" y="241.05" text-anchor="middle">8</text><text x="382.40" y="241.05" text-anchor="middle">10</text></g>
<text transform="translate(52.1,20.3) scale(1.15,1)" font-size="7.3" fill="#111" text-anchor="middle">P</text>
<text x="389.0" y="233" font-size="7" font-style="italic">r</text><text transform="translate(391.7,234.7) scale(1.25,1.05)" font-size="5.4" font-style="italic">b</text>
<rect x="292.5" y="11.4" width="88.1" height="156" fill="#fff" stroke="#aaa" stroke-width="0.7"/>
<g fill="#111"><path d="M297,29.0H312" stroke="#3F3D99" stroke-width="1.9" fill="none"/><g font-size="7.5"><text class="b" x="327.0" y="31.60">0.71</text><text transform="translate(340.1,31.60) scale(1.0,1)" font-style="italic">w</text><text x="345.20" y="32.90" font-size="5.5">1</text><text x="349.10" y="32.90" font-size="5.5" font-style="italic">c</text></g><path d="M297,59.2H312" stroke="#993D71" stroke-width="1.9" fill="none"/><g font-size="7.5"><text class="b" x="327.0" y="61.80">0.76</text><text transform="translate(340.1,61.80) scale(1.0,1)" font-style="italic">w</text><text x="345.20" y="63.10" font-size="5.5">1</text><text x="349.10" y="63.10" font-size="5.5" font-style="italic">c</text></g><path d="M297,89.4H312" stroke="#998B3D" stroke-width="1.9" fill="none"/><g font-size="7.5"><text class="b" x="327.0" y="92.00"></text><text transform="translate(327.0,92.00) scale(1.0,1)" font-style="italic">w</text><text x="332.10" y="93.30" font-size="5.5">1</text><text x="336.00" y="93.30" font-size="5.5" font-style="italic">c</text></g><path d="M297,119.6H312" stroke="#3D9956" stroke-width="1.9" fill="none"/><g font-size="7.5"><text class="b" x="327.0" y="122.45">1.2</text><text transform="translate(336.15,122.45) scale(1.0,1)" font-style="italic">w</text><text x="341.25" y="123.75" font-size="5.5">1</text><text x="345.15" y="123.75" font-size="5.5" font-style="italic">c</text></g><path d="M297,149.8H312" stroke="#3D5A99" stroke-width="1.9" fill="none"/><g font-size="7.5"><text class="b" x="327.0" y="152.80">1.7</text><text transform="translate(336.15,152.80) scale(1.0,1)" font-style="italic">w</text><text x="341.25" y="154.10" font-size="5.5">1</text><text x="345.15" y="154.10" font-size="5.5" font-style="italic">c</text></g></g>
<g font-size="9.6" fill="#111"><text transform="translate(185.6,10.9) scale(1.1,1)" font-style="italic">w</text><text transform="translate(191.9,12.2) scale(1.1,1)" font-size="7.2">2</text><text transform="translate(196.3,10.9) scale(1.16,1)">=</text><text transform="translate(203.7,10.9) scale(1.18,1)">−</text><text x="210.4" y="10.9">10,</text><text transform="translate(226.0,10.9) scale(1.1,1)" font-style="italic">w</text><text transform="translate(232.6,12.2) scale(1.1,1)" font-size="7.2">4</text><text transform="translate(236.8,10.9) scale(1.16,1)">=</text><text x="243.4" y="10.9">1</text></g>
</svg></div>
</body></html>
